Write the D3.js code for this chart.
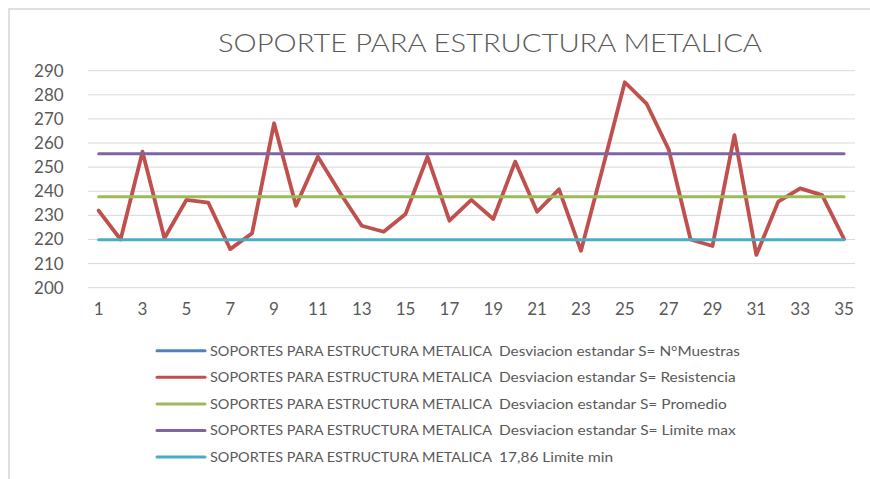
<!DOCTYPE html>
<html>
<head>
<meta charset="utf-8">
<script src="https://cdn.jsdelivr.net/npm/d3@7"></script>
<style>
  html, body { margin: 0; padding: 0; background: #fff; }
  svg { display: block; }
  text { font-family: Lato, "Open Sans", sans-serif; fill: #595959; }
</style>
</head>
<body>
<svg id="chart" width="870" height="479"></svg>
<script>
// Sample numbers (N°Muestras) used as categories
const samples = d3.range(1, 36);

// Resistance measured for each support
const resistencia = [
  232, 220, 256.4, 220.5, 236.4, 235.3, 216, 222.6, 268.2, 234,
  254.3, 239.5, 225.7, 223.2, 230.6, 254.3, 227.8, 236.4, 228.5, 252.3,
  231.5, 240.8, 215.3, 250, 285.2, 276.2, 257.4, 220, 217.3, 263.3,
  213.6, 235.7, 241.2, 238.4, 220.2
];

const desviacion = 17.86;
const promedio = d3.mean(resistencia);
const limiteMax = promedio + desviacion;
const limiteMin = promedio - desviacion;

const yTicks = [200, 210, 220, 230, 240, 250, 260, 270, 280, 290];
const xTicks = samples.filter(d => d % 2 === 1);

const seriesNames = [
  ["SOPORTES PARA ESTRUCTURA METALICA", "Desviacion estandar S= N°Muestras"],
  ["SOPORTES PARA ESTRUCTURA METALICA", "Desviacion estandar S= Resistencia"],
  ["SOPORTES PARA ESTRUCTURA METALICA", "Desviacion estandar S= Promedio"],
  ["SOPORTES PARA ESTRUCTURA METALICA", "Desviacion estandar S= Limite max"],
  ["SOPORTES PARA ESTRUCTURA METALICA", "17,86 Limite min"]
];
const seriesColors = ["#4F81BD", "#C0504D", "#9BBB59", "#8064A2", "#4BACC6"];

const svg = d3.select("#chart");

// chart frame
svg.append("rect")
  .attr("x", 9).attr("y", 9)
  .attr("width", 900).attr("height", 500)
  .attr("fill", "#fff")
  .attr("stroke", "#d9d9d9").attr("stroke-width", 1.6);

// title
svg.append("text")
  .attr("x", 218).attr("y", 52)
  .attr("font-size", 25)
  .attr("font-weight", 300)
  .attr("textLength", 544).attr("lengthAdjust", "spacingAndGlyphs")
  .text("SOPORTE PARA ESTRUCTURA METALICA");

const plot = { left: 87.7, right: 855, top: 70.7, bottom: 287.7 };

const x = d3.scaleBand().domain(samples).range([plot.left, plot.right]).padding(0);
const y = d3.scaleLinear().domain([200, 290]).range([plot.bottom, plot.top]);
const cx = d => x(d) + x.bandwidth() / 2;

// horizontal gridlines
svg.append("g")
  .selectAll("line").data(yTicks).join("line")
  .attr("x1", plot.left).attr("x2", plot.right)
  .attr("y1", d => y(d)).attr("y2", d => y(d))
  .attr("stroke", "#d9d9d9").attr("stroke-width", 1);

// y axis labels
const yAxis = svg.append("g")
  .attr("transform", `translate(${plot.left - 24},0)`)
  .call(d3.axisLeft(y).tickValues(yTicks).tickSize(0).tickPadding(0));
yAxis.select(".domain").remove();
yAxis.selectAll("text")
  .attr("font-size", 17).attr("fill", "#595959")
  .style("font-family", "Lato, 'Open Sans', sans-serif");

// x axis labels
const xAxis = svg.append("g")
  .attr("transform", `translate(0,${plot.bottom + 15})`)
  .call(d3.axisBottom(x).tickValues(xTicks).tickSize(0).tickPadding(0));
xAxis.select(".domain").remove();
xAxis.selectAll("text")
  .attr("font-size", 17).attr("fill", "#595959")
  .style("font-family", "Lato, 'Open Sans', sans-serif");

const line = d3.line().x(d => cx(d[0])).y(d => y(d[1]));

// resistance line
svg.append("path")
  .datum(samples.map((s, i) => [s, resistencia[i]]))
  .attr("d", line)
  .attr("fill", "none")
  .attr("stroke", seriesColors[1])
  .attr("stroke-width", 3.8)
  .attr("stroke-linejoin", "round")
  .attr("stroke-linecap", "round");

// mean and control limits
[[promedio, seriesColors[2]], [limiteMax, seriesColors[3]], [limiteMin, seriesColors[4]]]
  .forEach(([v, c]) => {
    svg.append("path")
      .datum(samples.map(s => [s, v]))
      .attr("d", line)
      .attr("fill", "none")
      .attr("stroke", c)
      .attr("stroke-width", 3)
      .attr("stroke-linecap", "round");
  });

// legend
const firstWidths = [282, 282, 282, 282, 282];
const secondWidths = [241, 236.7, 227.7, 236.7, 114];
const legend = svg.append("g");
seriesNames.forEach((names, i) => {
  const ly = 350.7 + i * 26.6;
  legend.append("line")
    .attr("x1", 157).attr("x2", 205)
    .attr("y1", ly).attr("y2", ly)
    .attr("stroke", seriesColors[i]).attr("stroke-width", 3)
    .attr("stroke-linecap", "round");
  legend.append("text")
    .attr("x", 210).attr("y", ly + 4.8)
    .attr("font-size", 13.5)
    .attr("textLength", firstWidths[i]).attr("lengthAdjust", "spacingAndGlyphs")
    .text(names[0]);
  legend.append("text")
    .attr("x", 499).attr("y", ly + 4.8)
    .attr("font-size", 13.5)
    .attr("textLength", secondWidths[i]).attr("lengthAdjust", "spacingAndGlyphs")
    .text(names[1]);
});
</script>
</body>
</html>
